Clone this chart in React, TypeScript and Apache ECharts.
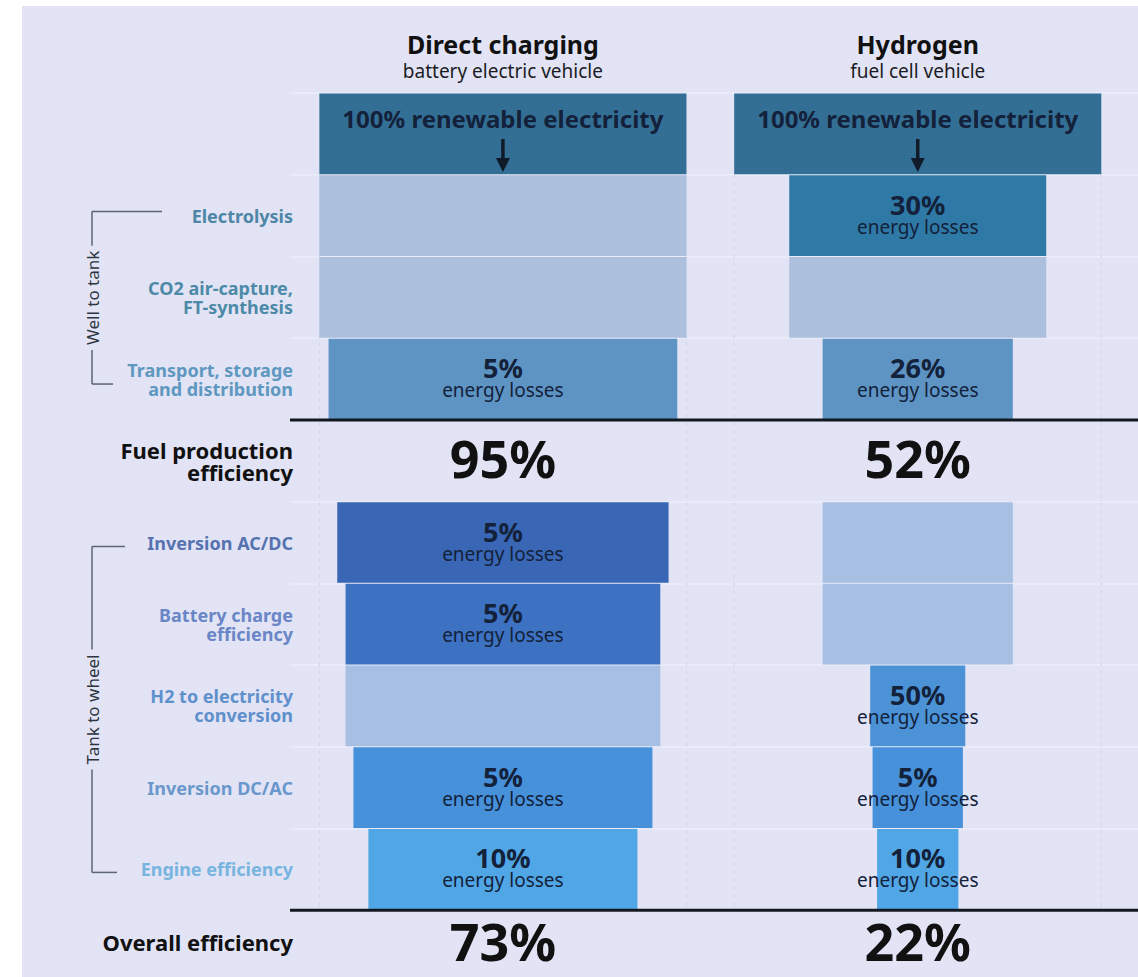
import React, { useEffect, useRef } from "react";
import * as echarts from "echarts";

// ---------- data ----------
const rowLabels = [
  "",
  "Electrolysis",
  "CO2 air-capture,\nFT-synthesis",
  "Transport, storage\nand distribution",
  "Fuel production\nefficiency",
  "Inversion AC/DC",
  "Battery charge\nefficiency",
  "H2 to electricity\nconversion",
  "Inversion DC/AC",
  "Engine efficiency",
  "Overall efficiency",
];
// row index of each conversion step (Electrolysis ... Engine efficiency)
const stepRows = [1, 2, 3, 5, 6, 7, 8, 9];
const columnTitles = ["Direct charging", "Hydrogen"];
const columnSubtitles = ["battery electric vehicle", "fuel cell vehicle"];
const sourceShare = [100, 100];
const sourceLabel = "100% renewable electricity";
// energy losses (%) per step; null = step does not apply
const bevLosses = [null, null, 5, 5, 5, null, 5, 10];
const fcevLosses = [30, null, 26, null, null, 50, 5, 10];
const fuelEfficiency = [95, 52];
const overallEfficiency = [73, 22];
const fuelRow = 4;
const overallRow = 10;
const groupNames = ["Well to tank", "Tank to wheel"];
const groupFirstRows = [1, 5];
const groupLastRows = [3, 9];

// ---------- styles ----------
const FONT = "'Noto Sans', 'Open Sans', sans-serif";
const BG = "#e2e4f5";
const INK = "#13213a";
const SOURCE_COLOR = "#336f95";
const STEP_COLORS = ["#2f79a6", "#aec2df", "#5e94c4", "#3967b5", "#3d71c1", "#4b93d6", "#4691da", "#51a7e6"];
const PLACEHOLDER_WTT = "#acbfdc";
const PLACEHOLDER_TTW = "#a8bfe4";
const LABEL_COLORS = [
  "#333", "#4d86a6", "#4d8aa8", "#5e98c0", "#111111",
  "#5672b0", "#6a86c6", "#5f90cc", "#6a98cc", "#78b4e0", "#111111",
];
const COLUMN_CENTERS = [0, 113];
const X_MIN = -58;
const X_MAX = 173;
const BRACKET_OFFSET = 198;
const BRACKET_TICKS = [
  [70, 21],
  [33, 25],
];
const BRACKET_TOP_SHIFT = [-4, 4];
const BRACKET_BOTTOM_SHIFT = [5, 3];

function buildBlocks() {
  const out: any[] = [];
  [bevLosses, fcevLosses].forEach((losses, c) => {
    let remaining = sourceShare[c];
    out.push({ value: [COLUMN_CENTERS[c], 0, remaining, -1, -1] });
    losses.forEach((loss, i) => {
      if (loss != null) remaining = remaining * (1 - loss / 100);
      out.push({ value: [COLUMN_CENTERS[c], stepRows[i], remaining, loss == null ? -1 : loss, i] });
    });
  });
  return out;
}

export default function App() {
  const ref = useRef<HTMLDivElement>(null);
  useEffect(() => {
    if (!ref.current) return;
    const chart = echarts.init(ref.current, undefined, { renderer: "svg" });

    const rich: any = {};
    rowLabels.forEach((_, i) => {
      const big = i === fuelRow || i === overallRow;
      rich["s" + i] = {
        color: LABEL_COLORS[i],
        fontFamily: FONT,
        fontWeight: "bold",
        fontSize: big ? 22 : 18,
        lineHeight: big ? 22 : 19,
        align: "right",
        padding: i === overallRow ? [0, 0, 18, 0] : 0,
      };
    });

    const blocks = buildBlocks();

    const option: any = {
      animation: false,
      backgroundColor: "#ffffff",
      graphic: [
        { type: "rect", left: 22, top: 6, shape: { width: 1116, height: 971 }, style: { fill: BG }, z: -10 },
      ],
      grid: { left: 290, right: 0, top: 93, height: 899, outerBoundsMode: "none", containLabel: false },
      xAxis: {
        type: "value",
        min: X_MIN,
        max: X_MAX,
        show: false,
      },
      yAxis: {
        type: "category",
        inverse: true,
        data: rowLabels,
        axisLine: { show: false },
        axisTick: { show: false },
        splitLine: { show: true, lineStyle: { color: "#eceefa", width: 1.5 } },
        axisLabel: {
          margin: -3,
          formatter: (v: string, i: number) =>
            v
              .split("\n")
              .map((l) => `{s${i}|${l}}`)
              .join("\n"),
          rich,
        },
      },
      series: [
        {
          type: "custom",
          name: "guides",
          silent: true,
          data: COLUMN_CENTERS.map((c) => ({ value: [c, 1] })),
          renderItem: (params: any, api: any) => {
            const cx = api.value(0);
            const top = api.coord([cx, 1])[1] - api.size([0, 1])[1] / 2;
            const bottom = api.coord([cx, 9])[1] + api.size([0, 1])[1] / 2;
            const xs = [api.coord([cx - 50, 1])[0], api.coord([cx + 50, 1])[0]];
            return {
              type: "group",
              children: xs.map((x) => ({
                type: "line",
                shape: { x1: x, y1: top, x2: x, y2: bottom },
                style: { stroke: "#d3d7ec", lineWidth: 1.2, lineDash: [4, 4] },
              })),
            };
          },
          z: 1,
        },
        {
          type: "custom",
          name: "blocks",
          silent: true,
          data: blocks,
          renderItem: (params: any, api: any) => {
            const cx = api.value(0);
            const row = api.value(1);
            const w = api.value(2);
            const loss = api.value(3);
            const step = api.value(4);
            const p0 = api.coord([cx - w / 2, row]);
            const p1 = api.coord([cx + w / 2, row]);
            const h = api.size([0, 1])[1];
            const y0 = p0[1] - h / 2;
            const mid = (p0[0] + p1[0]) / 2;
            let fill = SOURCE_COLOR;
            if (step >= 0) {
              fill = loss >= 0 ? STEP_COLORS[step] : row < fuelRow ? PLACEHOLDER_WTT : PLACEHOLDER_TTW;
            }
            const children: any[] = [
              {
                type: "rect",
                shape: { x: p0[0], y: y0 + 0.5, width: p1[0] - p0[0], height: h - 1 },
                style: { fill },
              },
            ];
            if (step < 0) {
              children.push({
                type: "text",
                style: {
                  text: sourceLabel,
                  x: mid,
                  y: y0 + 25,
                  align: "center",
                  verticalAlign: "middle",
                  fill: INK,
                  font: `bold 24px ${FONT}`,
                },
              });
              children.push({
                type: "line",
                shape: { x1: mid, y1: y0 + 46, x2: mid, y2: y0 + 68 },
                style: { stroke: "#111a28", lineWidth: 3.5 },
              });
              children.push({
                type: "polygon",
                shape: { points: [[mid - 7, y0 + 65], [mid + 7, y0 + 65], [mid, y0 + 79]] },
                style: { fill: "#111a28" },
              });
            } else if (loss >= 0) {
              children.push({
                type: "text",
                style: {
                  text: `{p|${loss}%}\n{l|energy losses}`,
                  x: mid,
                  y: y0 + h / 2 - 2,
                  align: "center",
                  verticalAlign: "middle",
                  rich: {
                    p: { font: `bold 27px ${FONT}`, fill: INK, lineHeight: 26, align: "center" },
                    l: { font: `19px ${FONT}`, fill: INK, lineHeight: 19, align: "center" },
                  },
                },
              });
            }
            return { type: "group", children };
          },
          z: 2,
        },
        {
          type: "custom",
          name: "efficiency",
          silent: true,
          data: [
            ...fuelEfficiency.map((v, c) => ({ value: [COLUMN_CENTERS[c], fuelRow, v, c] })),
            ...overallEfficiency.map((v, c) => ({ value: [COLUMN_CENTERS[c], overallRow, v, c] })),
          ],
          renderItem: (params: any, api: any) => {
            const cx = api.value(0);
            const row = api.value(1);
            const v = api.value(2);
            const c = api.value(3);
            const p = api.coord([cx, row]);
            const h = api.size([0, 1])[1];
            const cs = params.coordSys;
            const children: any[] = [
              {
                type: "text",
                style: {
                  text: `${v}%`,
                  x: p[0],
                  y: row === overallRow ? p[1] - 11 : p[1] - 3,
                  align: "center",
                  verticalAlign: "middle",
                  fill: "#111111",
                  font: `bold 52px ${FONT}`,
                },
              },
            ];
            if (c === 0) {
              children.push({
                type: "line",
                shape: { x1: cs.x, y1: p[1] - h / 2, x2: cs.x + cs.width, y2: p[1] - h / 2 },
                style: { stroke: "#121820", lineWidth: 3 },
              });
            }
            return { type: "group", children };
          },
          z: 3,
        },
        {
          type: "custom",
          name: "headers",
          silent: true,
          data: COLUMN_CENTERS.map((c, i) => ({ value: [c, 0, i] })),
          renderItem: (params: any, api: any) => {
            const cx = api.value(0);
            const i = api.value(2);
            const p = api.coord([cx, 0]);
            const top = p[1] - api.size([0, 1])[1] / 2;
            return {
              type: "group",
              children: [
                {
                  type: "text",
                  style: {
                    text: columnTitles[i],
                    x: p[0],
                    y: top - 49,
                    align: "center",
                    verticalAlign: "middle",
                    fill: "#111111",
                    font: `bold 25px ${FONT}`,
                  },
                },
                {
                  type: "text",
                  style: {
                    text: columnSubtitles[i],
                    x: p[0],
                    y: top - 22,
                    align: "center",
                    verticalAlign: "middle",
                    fill: "#1c1c24",
                    font: `19px ${FONT}`,
                  },
                },
              ],
            };
          },
          z: 3,
        },
        {
          type: "custom",
          name: "brackets",
          silent: true,
          data: groupNames.map((_, g) => ({ value: [X_MIN, groupFirstRows[g], groupLastRows[g], g] })),
          renderItem: (params: any, api: any) => {
            const g = api.value(3);
            const y0 = api.coord([X_MIN, api.value(1)])[1] + BRACKET_TOP_SHIFT[g];
            const y1 = api.coord([X_MIN, api.value(2)])[1] + BRACKET_BOTTOM_SHIFT[g];
            const x = params.coordSys.x - BRACKET_OFFSET;
            const ticks = BRACKET_TICKS[g];
            const stroke = { stroke: "#5b6472", lineWidth: 1.5 };
            return {
              type: "group",
              children: [
                { type: "line", shape: { x1: x, y1: y0, x2: x, y2: y1 }, style: stroke },
                { type: "line", shape: { x1: x, y1: y0, x2: x + ticks[0], y2: y0 }, style: stroke },
                { type: "line", shape: { x1: x, y1: y1, x2: x + ticks[1], y2: y1 }, style: stroke },
                {
                  type: "text",
                  x: x,
                  y: (y0 + y1) / 2,
                  rotation: Math.PI / 2,
                  style: {
                    text: groupNames[g],
                    x: 0,
                    y: 0,
                    align: "center",
                    verticalAlign: "middle",
                    fill: "#2c3440",
                    font: `17px ${FONT}`,
                    backgroundColor: BG,
                    padding: [2, 5],
                  },
                },
              ],
            };
          },
          z: 3,
        },
      ],
    };
    chart.setOption(option);
    return () => chart.dispose();
  }, []);
  return (
    <div
      ref={ref}
      style={{ position: "absolute", left: 0, top: 0, width: 1138, height: 977 }}
    />
  );
}
